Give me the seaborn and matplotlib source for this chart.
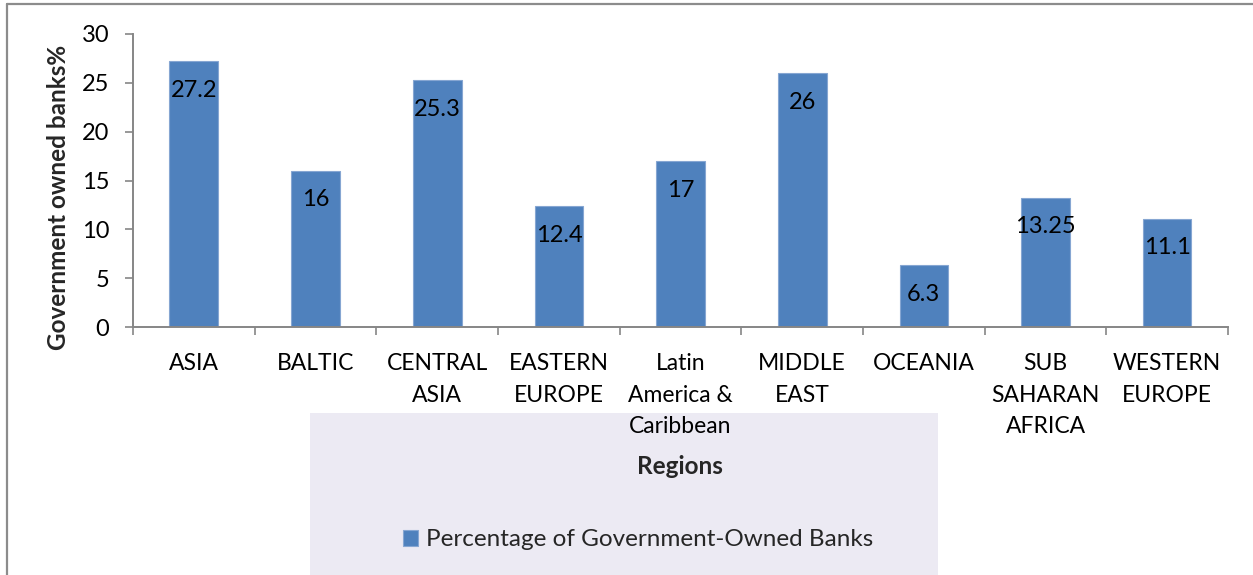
import matplotlib
matplotlib.use("Agg")
import matplotlib.pyplot as plt
from matplotlib.lines import Line2D
from matplotlib.patches import Rectangle
import seaborn as sns
import pandas as pd

# Share of government-owned banks by region (%)
regions = ["ASIA", "BALTIC", "CENTRAL\nASIA", "EASTERN\nEUROPE", "Latin\nAmerica &\nCaribbean",
           "MIDDLE\nEAST", "OCEANIA", "SUB\nSAHARAN\nAFRICA", "WESTERN\nEUROPE"]
values = [27.2, 16, 25.3, 12.4, 17, 26, 6.3, 13.25, 11.1]
value_labels = ["27.2", "16", "25.3", "12.4", "17", "26", "6.3", "13.25", "11.1"]
y_ticks = [0, 5, 10, 15, 20, 25, 30]
series_name = "Percentage of Government-Owned Banks"

sns.set_theme(style="white")
plt.rcParams["font.family"] = ["Lato", "DejaVu Sans"]

BAR = "#4F81BD"
AXIS = "#868686"

df = pd.DataFrame({"Region": regions, "Value": values})

fig = plt.figure(figsize=(12.53, 5.75), dpi=100)
ax = fig.add_axes([133 / 1253, 1 - 327 / 575, (1228 - 133) / 1253, (327 - 34) / 575])

# faint background panel behind the lower labels
fig.patches.append(Rectangle((310 / 1253, 0), (938 - 310) / 1253, (575 - 413) / 575,
                             transform=fig.transFigure, facecolor="#eceaf3",
                             edgecolor="none", zorder=-10))

sns.barplot(data=df, x="Region", y="Value", color=BAR, width=0.4, ax=ax,
            label=series_name, edgecolor="#86a6d2", linewidth=0.8, saturation=1)
ax.set_facecolor("none")

for patch, lab in zip(ax.patches, value_labels):
    ax.annotate(lab, (patch.get_x() + patch.get_width() / 2, patch.get_height()),
                xytext=(0, -21), textcoords="offset points", ha="center", va="center",
                fontsize=17, color="black")

ax.set_xlim(-0.5, len(regions) - 0.5)
ax.set_ylim(0, 30)
ax.set_yticks(y_ticks)
ax.set_xlabel("")
ax.set_ylabel("")

for side in ("top", "right"):
    ax.spines[side].set_visible(False)
for side in ("left", "bottom"):
    ax.spines[side].set_color(AXIS)
    ax.spines[side].set_linewidth(1.4)

ax.tick_params(axis="y", direction="out", length=6, width=1.2, color=AXIS,
               labelsize=17, pad=11, left=True, labelcolor="black")
ax.tick_params(axis="x", which="major", length=0, labelsize=16.5, pad=19, labelcolor="black")
ax.set_xticks([i - 0.5 for i in range(len(regions) + 1)], minor=True)
ax.tick_params(axis="x", which="minor", direction="out", length=6, width=1.2,
               color=AXIS, bottom=True)
for t in ax.get_xticklabels():
    t.set_linespacing(1.62)

fig.text(59 / 1253, 1 - 197 / 575, "Government owned banks%", rotation=90,
         ha="center", va="center", fontsize=17.5, fontweight="bold")
fig.text(680 / 1253, 1 - 467 / 575, "Regions", ha="center", va="center",
         fontsize=17.5, fontweight="bold")

leg = ax.legend(loc="center", bbox_to_anchor=(638 / 1253, 1 - 540 / 575),
                bbox_transform=fig.transFigure, frameon=False, fontsize=17.5,
                handlelength=0.62, handleheight=0.62, handletextpad=0.3)

# outer chart border (left and top)
fig.add_artist(Line2D([7 / 1253, 7 / 1253], [0, 1 - 4 / 575], transform=fig.transFigure,
                      color="#8c8c8c", linewidth=1.6))
fig.add_artist(Line2D([7 / 1253, 1], [1 - 4 / 575, 1 - 4 / 575], transform=fig.transFigure,
                      color="#8c8c8c", linewidth=1.6))

fig.savefig("out.png", dpi=100)
